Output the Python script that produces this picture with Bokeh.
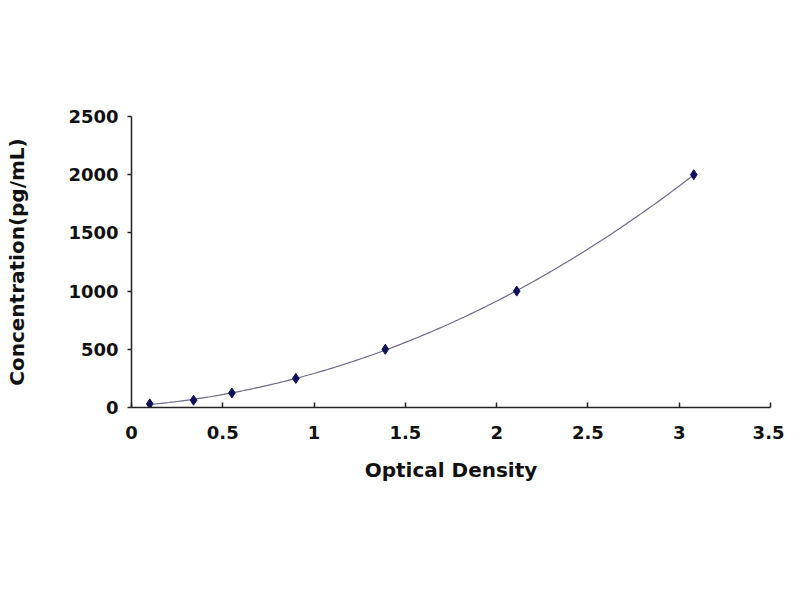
import numpy as np
from bokeh.plotting import figure
from bokeh.models import Range1d, FixedTicker
from bokeh.embed import file_html
from bokeh.resources import INLINE

# Data
od = [0.10, 0.34, 0.55, 0.90, 1.39, 2.11, 3.08]
conc = [31.2, 62.5, 125, 250, 500, 1000, 2000]
x_ticks = [0, 0.5, 1, 1.5, 2, 2.5, 3, 3.5]
y_ticks = [0, 500, 1000, 1500, 2000, 2500]

# Fitted standard curve (polynomial fit of the standards)
coef = np.polyfit(od, conc, 3)
xs = np.linspace(min(od), max(od), 200)
ys = np.polyval(coef, xs)

p = figure(width=784, height=584, output_backend="svg", toolbar_location=None,
           x_range=Range1d(0, 3.5), y_range=Range1d(0, 2500))
p.min_border_left = 131
p.min_border_right = 14
p.min_border_top = 116
p.min_border_bottom = 177
p.outline_line_color = None
p.xgrid.visible = False
p.ygrid.visible = False
p.background_fill_color = "white"

p.line(xs, ys, line_color="#6a6a88", line_width=1.2)
p.scatter(od, conc, marker="diamond", size=10, fill_color="#10105a", line_color="#10105a")

font = "DejaVu Sans"
for ax in (p.xaxis[0], p.yaxis[0]):
    ax.axis_line_color = "#222222"
    ax.axis_line_width = 1.5
    ax.major_tick_line_color = "#222222"
    ax.major_tick_line_width = 1.5
    ax.minor_tick_line_color = None
    ax.major_label_text_font = font
    ax.major_label_text_font_style = "bold"
    ax.major_label_text_font_size = "18px"
    ax.major_label_text_color = "#111111"
    ax.axis_label_text_font = font
    ax.axis_label_text_font_style = "bold"
    ax.axis_label_text_font_size = "20px"
    ax.axis_label_text_color = "#111111"

p.xaxis.ticker = FixedTicker(ticks=x_ticks)
p.yaxis.ticker = FixedTicker(ticks=y_ticks)
p.xaxis.major_label_overrides = {0: "0", 0.5: "0.5", 1: "1", 1.5: "1.5", 2: "2", 2.5: "2.5", 3: "3", 3.5: "3.5"}
p.xaxis.major_tick_in = 5
p.xaxis.major_tick_out = 0
p.yaxis.major_tick_in = 0
p.yaxis.major_tick_out = 4
p.xaxis.major_label_standoff = 18
p.yaxis.major_label_standoff = 9
p.xaxis.axis_label = "Optical Density"
p.yaxis.axis_label = "Concentration(pg/mL)"
p.xaxis.axis_label_standoff = 16
p.yaxis.axis_label_standoff = 36

open("out.html", "w").write(file_html(p, INLINE))
